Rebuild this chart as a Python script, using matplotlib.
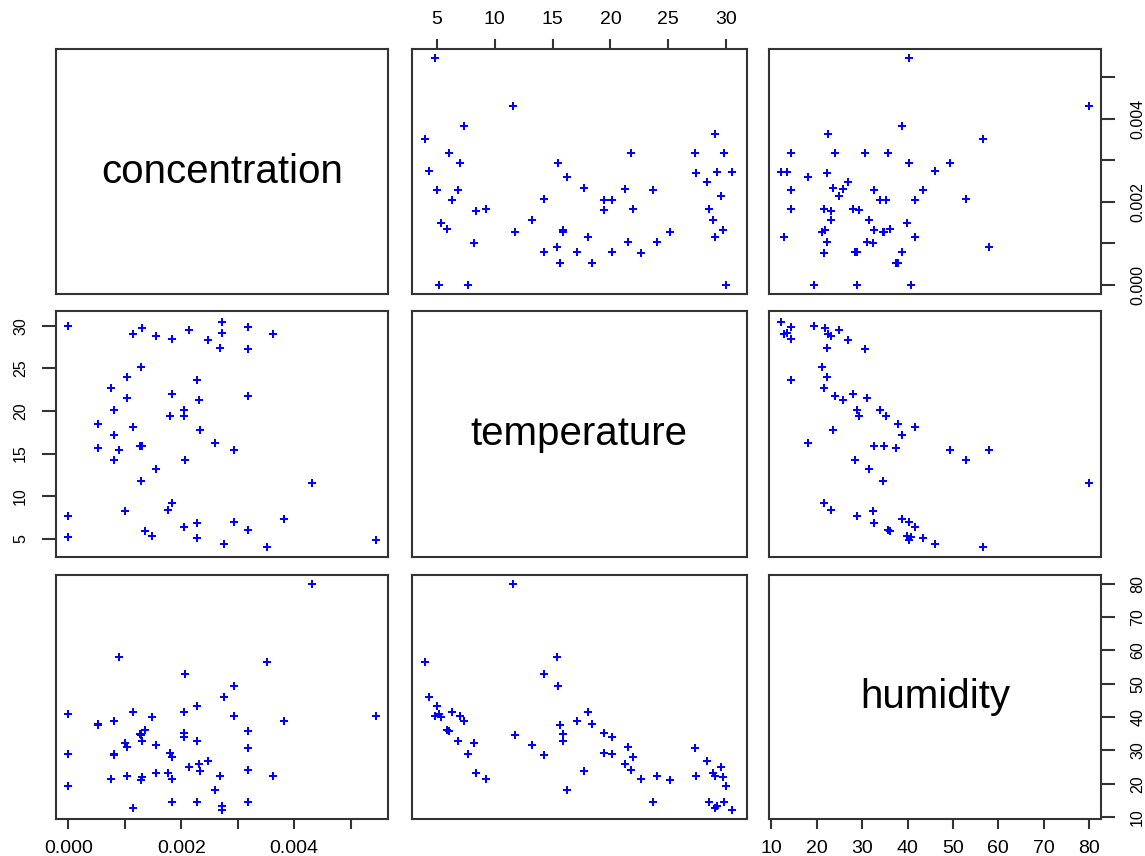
import numpy as np
import matplotlib.pyplot as plt

plt.rcParams['font.family'] = ['Liberation Sans', 'DejaVu Sans']

# Werte (56 Messungen)
concentration = [0.00545, 0.00431, 0.00382, 0.00352, 0.00362, 0.00318, 0.00318, 0.00318,
                 0.00318, 0.00294, 0.00294, 0.00275, 0.00269, 0.00272, 0.00272, 0.00259,
                 0.00248, 0.00234, 0.00228, 0.00228, 0.00231, 0.00228, 0.00214, 0.00204,
                 0.00207, 0.00204, 0.00204, 0.00177, 0.00183, 0.00180, 0.00183, 0.00183,
                 0.00149, 0.00156, 0.00156, 0.00135, 0.00128, 0.00127, 0.00131, 0.00128,
                 0.00131, 0.00114, 0.00114, 0.00100, 0.00104, 0.00104, 0.00090, 0.00080,
                 0.00080, 0.00080, 0.00076, 0.00053, 0.00053, 0.0, 0.0, 0.0]
temperature = [4.85, 11.57, 7.36, 4.01, 29.0, 6.04, 21.8, 27.3,
               29.8, 7.01, 15.46, 4.36, 27.35, 29.2, 30.5, 16.26,
               28.36, 17.76, 5.03, 6.87, 21.3, 23.67, 29.55, 6.35,
               14.25, 19.43, 20.12, 8.37, 9.24, 19.43, 21.97, 28.5,
               5.37, 13.24, 28.85, 5.86, 11.74, 15.92, 15.92, 25.16,
               29.7, 18.1, 29.0, 8.2, 21.5, 23.98, 15.42, 14.25,
               17.13, 20.12, 22.68, 15.63, 18.45, 5.2, 7.68, 30.0]
humidity = [40.4, 79.9, 38.7, 56.6, 22.4, 35.7, 24.1, 30.6,
            14.4, 40.4, 49.4, 46.0, 22.3, 13.4, 12.2, 18.1,
            26.8, 23.7, 43.4, 32.7, 25.9, 14.4, 25.0, 41.6,
            52.8, 35.3, 34.0, 23.2, 21.5, 29.3, 28.0, 14.4,
            39.9, 31.5, 23.2, 36.1, 34.5, 34.9, 32.7, 21.1,
            21.9, 41.6, 12.7, 32.3, 31.1, 22.3, 57.9, 28.5,
            38.7, 28.9, 21.5, 37.5, 37.9, 40.8, 28.9, 19.3]

names = ['concentration', 'temperature', 'humidity']
variables = [concentration, temperature, humidity]
limits = [(-0.00022, 0.00567), (2.82, 31.77), (9.5, 82.6)]
tick_values = [[0.000, 0.001, 0.002, 0.003, 0.004, 0.005],
               [5, 10, 15, 20, 25, 30],
               [10, 20, 30, 40, 50, 60, 70, 80]]
tick_labels = [['0.000', '', '0.002', '', '0.004', ''],
               ['5', '10', '15', '20', '25', '30'],
               ['10', '20', '30', '40', '50', '60', '70', '80']]

W, H = 1145, 856
fig = plt.figure(figsize=(W / 100, H / 100), dpi=100)

# Pixelgrenzen der Felder (links/rechts, oben/unten)
cols_px = [(56, 388.3), (411.5, 746.7), (769, 1101)]
rows_px = [(49.3, 294), (310.7, 557.3), (575, 818.7)]

box_col = '#333333'
for i in range(3):
    for j in range(3):
        l, r = cols_px[j]
        t, b = rows_px[i]
        ax = fig.add_axes([l / W, 1 - b / H, (r - l) / W, (b - t) / H])
        ax.set_xlim(limits[j])
        ax.set_ylim(limits[i])
        for s in ax.spines.values():
            s.set_color(box_col)
            s.set_linewidth(1.5)
        ax.set_xticks([])
        ax.set_yticks([])

        if i == j:
            ax.text(0.5, 0.5, names[i], transform=ax.transAxes, ha='center',
                    va='center', fontsize=29)
        else:
            ax.plot(variables[j], variables[i], linestyle='none', marker='P',
                    ms=5.8, mew=0, color='#0000ff')

        # Achsen wie bei pairs(): abwechselnd außen
        if i == 0 and j == 1:
            ax.set_xticks(tick_values[j])
            ax.set_xticklabels(tick_labels[j])
            ax.xaxis.tick_top()
            ax.tick_params(axis='x', direction='out', length=7.5, width=1.5,
                           color=box_col, labelsize=14, pad=8)
        if i == 2 and j in (0, 2):
            ax.set_xticks(tick_values[j])
            ax.set_xticklabels(tick_labels[j])
            ax.tick_params(axis='x', direction='out', length=7.5, width=1.5,
                           color=box_col, labelsize=14, pad=8)
        if j == 0 and i == 1:
            ax.set_yticks(tick_values[i])
            ax.set_yticklabels(tick_labels[i], rotation=90, va='center')
            ax.tick_params(axis='y', direction='out', length=10, width=1.5,
                           color=box_col, labelsize=11.5, pad=10)
        if j == 2 and i in (0, 2):
            ax.set_yticks(tick_values[i])
            ax.set_yticklabels(tick_labels[i], rotation=90, va='center')
            ax.yaxis.tick_right()
            ax.tick_params(axis='y', direction='out', length=10, width=1.5,
                           color=box_col, labelsize=11.5, pad=11)

plt.savefig('out.png', dpi=100)
